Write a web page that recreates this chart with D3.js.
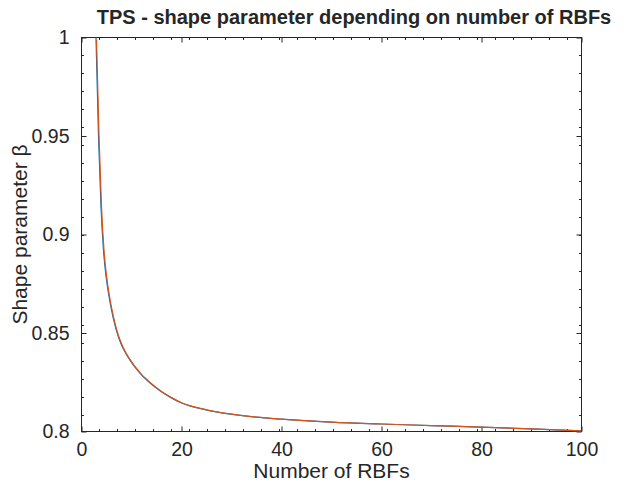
<!DOCTYPE html>
<html>
<head>
<meta charset="utf-8">
<script src="https://cdn.jsdelivr.net/npm/d3@7"></script>
<style>
  body { margin: 0; background: #fff; }
  svg { display: block; }
  text { font-family: "Liberation Sans", Arial, sans-serif; fill: #262626; }
</style>
</head>
<body>
<svg width="624" height="489"></svg>
<script>
// number of RBFs and the shape parameter
var nRBF = [3, 3.5, 4, 4.5, 5, 6, 7, 8, 9, 10, 11, 12, 13, 14, 16, 18, 20, 25, 30, 35, 40, 50, 60, 70, 80, 90, 100];
var betaData = [1.000, 0.950, 0.914, 0.892, 0.879, 0.863, 0.852, 0.8445, 0.8395, 0.8355, 0.832, 0.829, 0.8265, 0.8242, 0.8203, 0.8172, 0.8146, 0.8110, 0.8088, 0.8073, 0.8063, 0.8048, 0.8038, 0.8030, 0.8022, 0.8013, 0.8003];
var betaFit  = [0.999, 0.950, 0.914, 0.892, 0.879, 0.863, 0.852, 0.8445, 0.8395, 0.8355, 0.832, 0.829, 0.8265, 0.8242, 0.8203, 0.8172, 0.8146, 0.8110, 0.8088, 0.8073, 0.8063, 0.8048, 0.8038, 0.8030, 0.8022, 0.8013, 0.8003];

var xTicks = [0, 20, 40, 60, 80, 100];
var yTicks = [0.8, 0.85, 0.9, 0.95, 1];

var svg = d3.select("svg"),
    margin = {top: 37.5, right: 42.5, bottom: 57.5, left: 81.5},
    width = +svg.attr("width") - margin.left - margin.right,
    height = +svg.attr("height") - margin.top - margin.bottom;

var x = d3.scaleLinear().domain([0, 100]).range([0, width]),
    y = d3.scaleLinear().domain([0.8, 1]).range([height, 0]);

var g = svg.append("g")
    .attr("transform", "translate(" + margin.left + "," + margin.top + ")");

var axisColor = "#262626";

// minor ticks, 18px apart
var minorX = d3.range(0, width, 18),
    minorY = d3.range(0, height, 18);
g.selectAll(".mxb").data(minorX).enter().append("line")
    .attr("x1", function(d){ return d; }).attr("x2", function(d){ return d; })
    .attr("y1", height).attr("y2", height - 2.5).attr("stroke", axisColor);
g.selectAll(".mxt").data(minorX).enter().append("line")
    .attr("x1", function(d){ return d; }).attr("x2", function(d){ return d; })
    .attr("y1", 0).attr("y2", 2.5).attr("stroke", axisColor);
g.selectAll(".myl").data(minorY).enter().append("line")
    .attr("y1", function(d){ return d; }).attr("y2", function(d){ return d; })
    .attr("x1", 0).attr("x2", 2.5).attr("stroke", axisColor);
g.selectAll(".myr").data(minorY).enter().append("line")
    .attr("y1", function(d){ return d; }).attr("y2", function(d){ return d; })
    .attr("x1", width).attr("x2", width - 2.5).attr("stroke", axisColor);

// major ticks via axes (inward)
function styleAxis(sel) {
  sel.select(".domain").remove();
  sel.selectAll(".tick line").attr("stroke", axisColor);
  sel.selectAll(".tick text")
     .style("font-size", "19.5px")
     .attr("fill", axisColor);
}

g.append("g").attr("transform", "translate(0," + height + ")")
  .call(d3.axisBottom(x).tickValues(xTicks).tickSizeInner(-5).tickSizeOuter(0).tickPadding(11).tickFormat(d3.format("d")))
  .call(styleAxis);
g.append("g")
  .call(d3.axisTop(x).tickValues(xTicks).tickSizeInner(-5).tickSizeOuter(0).tickFormat(""))
  .call(styleAxis);
g.append("g")
  .call(d3.axisLeft(y).tickValues(yTicks).tickSizeInner(-5).tickSizeOuter(0).tickPadding(12).tickFormat(function(d){ return d3.format("")(+d.toFixed(2)); }))
  .call(styleAxis);
g.append("g").attr("transform", "translate(" + width + ",0)")
  .call(d3.axisRight(y).tickValues(yTicks).tickSizeInner(-5).tickSizeOuter(0).tickFormat(""))
  .call(styleAxis);

// box
g.append("rect")
  .attr("width", width).attr("height", height)
  .attr("fill", "none").attr("stroke", axisColor).attr("stroke-width", 1);

// curves
var line = d3.line()
    .curve(d3.curveMonotoneX)
    .x(function(d){ return x(d[0]); })
    .y(function(d){ return y(d[1]); });

g.append("path")
  .datum(d3.zip(nRBF, betaData).map(function(d){ return [d[0] - 0.1, d[1]]; }))
  .attr("d", line).attr("fill", "none")
  .attr("stroke", "#0072BD").attr("stroke-width", 1.2);
g.append("path")
  .datum(d3.zip(nRBF, betaFit))
  .attr("d", line).attr("fill", "none")
  .attr("stroke", "#D95319").attr("stroke-width", 1.2);

// labels
svg.append("text")
  .attr("x", 354).attr("y", 24)
  .attr("text-anchor", "middle")
  .style("font-size", "20px").style("font-weight", "bold")
  .attr("fill", "#000")
  .text("TPS - shape parameter depending on number of RBFs");

svg.append("text")
  .attr("x", margin.left + width / 2).attr("y", 478)
  .attr("text-anchor", "middle")
  .style("font-size", "21px")
  .text("Number of RBFs");

svg.append("text")
  .attr("transform", "translate(27," + (margin.top + height / 2) + ") rotate(-90)")
  .attr("text-anchor", "middle")
  .style("font-size", "21px")
  .text("Shape parameter β");
</script>
</body>
</html>
